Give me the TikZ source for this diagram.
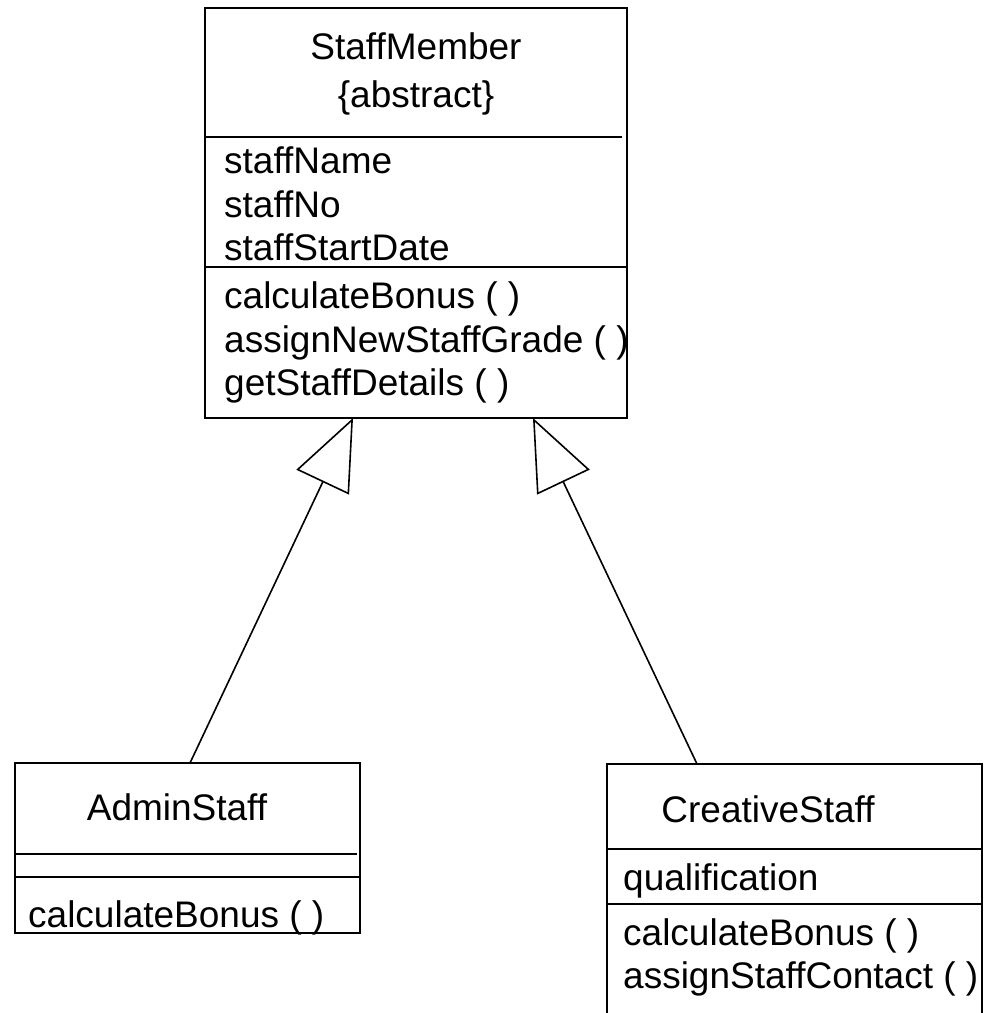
\documentclass[tikz,border=0pt]{standalone}
\usepackage{fontspec}
\setmainfont{Liberation Sans}
\usetikzlibrary{arrows.meta}
\begin{document}
\begin{tikzpicture}[x=1pt,y=-1pt,
  classbox/.style={draw,line width=1.6pt,anchor=north west,inner sep=0pt,outer sep=0pt},
  divider/.style={line width=1.6pt},
  txt/.style={inner sep=0pt,anchor=base west,font=\fontsize{37}{44}\selectfont},
  ctxt/.style={inner sep=0pt,anchor=base,font=\fontsize{37}{44}\selectfont},
  gen/.style={line width=1.6pt,-{Triangle[open,length=71pt,width=58pt,line width=1.6pt]}}]
\useasboundingbox (0,0) rectangle (992,1013);
% StaffMember
\node[classbox,minimum width=422pt,minimum height=410pt] (sm) at (205,8) {};
\draw[divider] (205,137) -- (622,137);
\draw[divider] (205,267) -- (627,267);
\node[ctxt] (smname) at (416,59) {StaffMember};
\node[ctxt] (smabs) at (416,107) {\{abstract\}};
\node[txt] (a1) at (224,173) {staffName};
\node[txt] (a2) at (224,217) {staffNo};
\node[txt] (a3) at (224,260) {staffStartDate};
\node[txt] (m1) at (224,308) {calculateBonus ( )};
\node[txt] (m2) at (224,352) {assignNewStaffGrade ( )};
\node[txt] (m3) at (224,395) {getStaffDetails ( )};
% AdminStaff
\node[classbox,minimum width=345pt,minimum height=170pt] (admin) at (15,763) {};
\draw[divider] (15,854) -- (357,854);
\draw[divider] (15,877) -- (360,877);
\node[ctxt] (adname) at (177,820) {AdminStaff};
\node[txt] (adm1) at (28,927) {calculateBonus ( )};
% CreativeStaff
\node[classbox,minimum width=375pt,minimum height=280pt] (cs) at (607,764) {};
\draw[divider] (607,849) -- (982,849);
\draw[divider] (607,904) -- (982,904);
\node[ctxt] (csname) at (768,822) {CreativeStaff};
\node[txt] (csa1) at (623,890) {qualification};
\node[txt] (csm1) at (623,945) {calculateBonus ( )};
\node[txt] (csm2) at (623,988) {assignStaffContact ( )};
% generalisations
\draw[gen] ([xshift=175pt]admin.north west) -- ([xshift=148pt]sm.south west);
\draw[gen] ([xshift=90pt]cs.north west) -- ([xshift=328pt]sm.south west);
\end{tikzpicture}
\end{document}
